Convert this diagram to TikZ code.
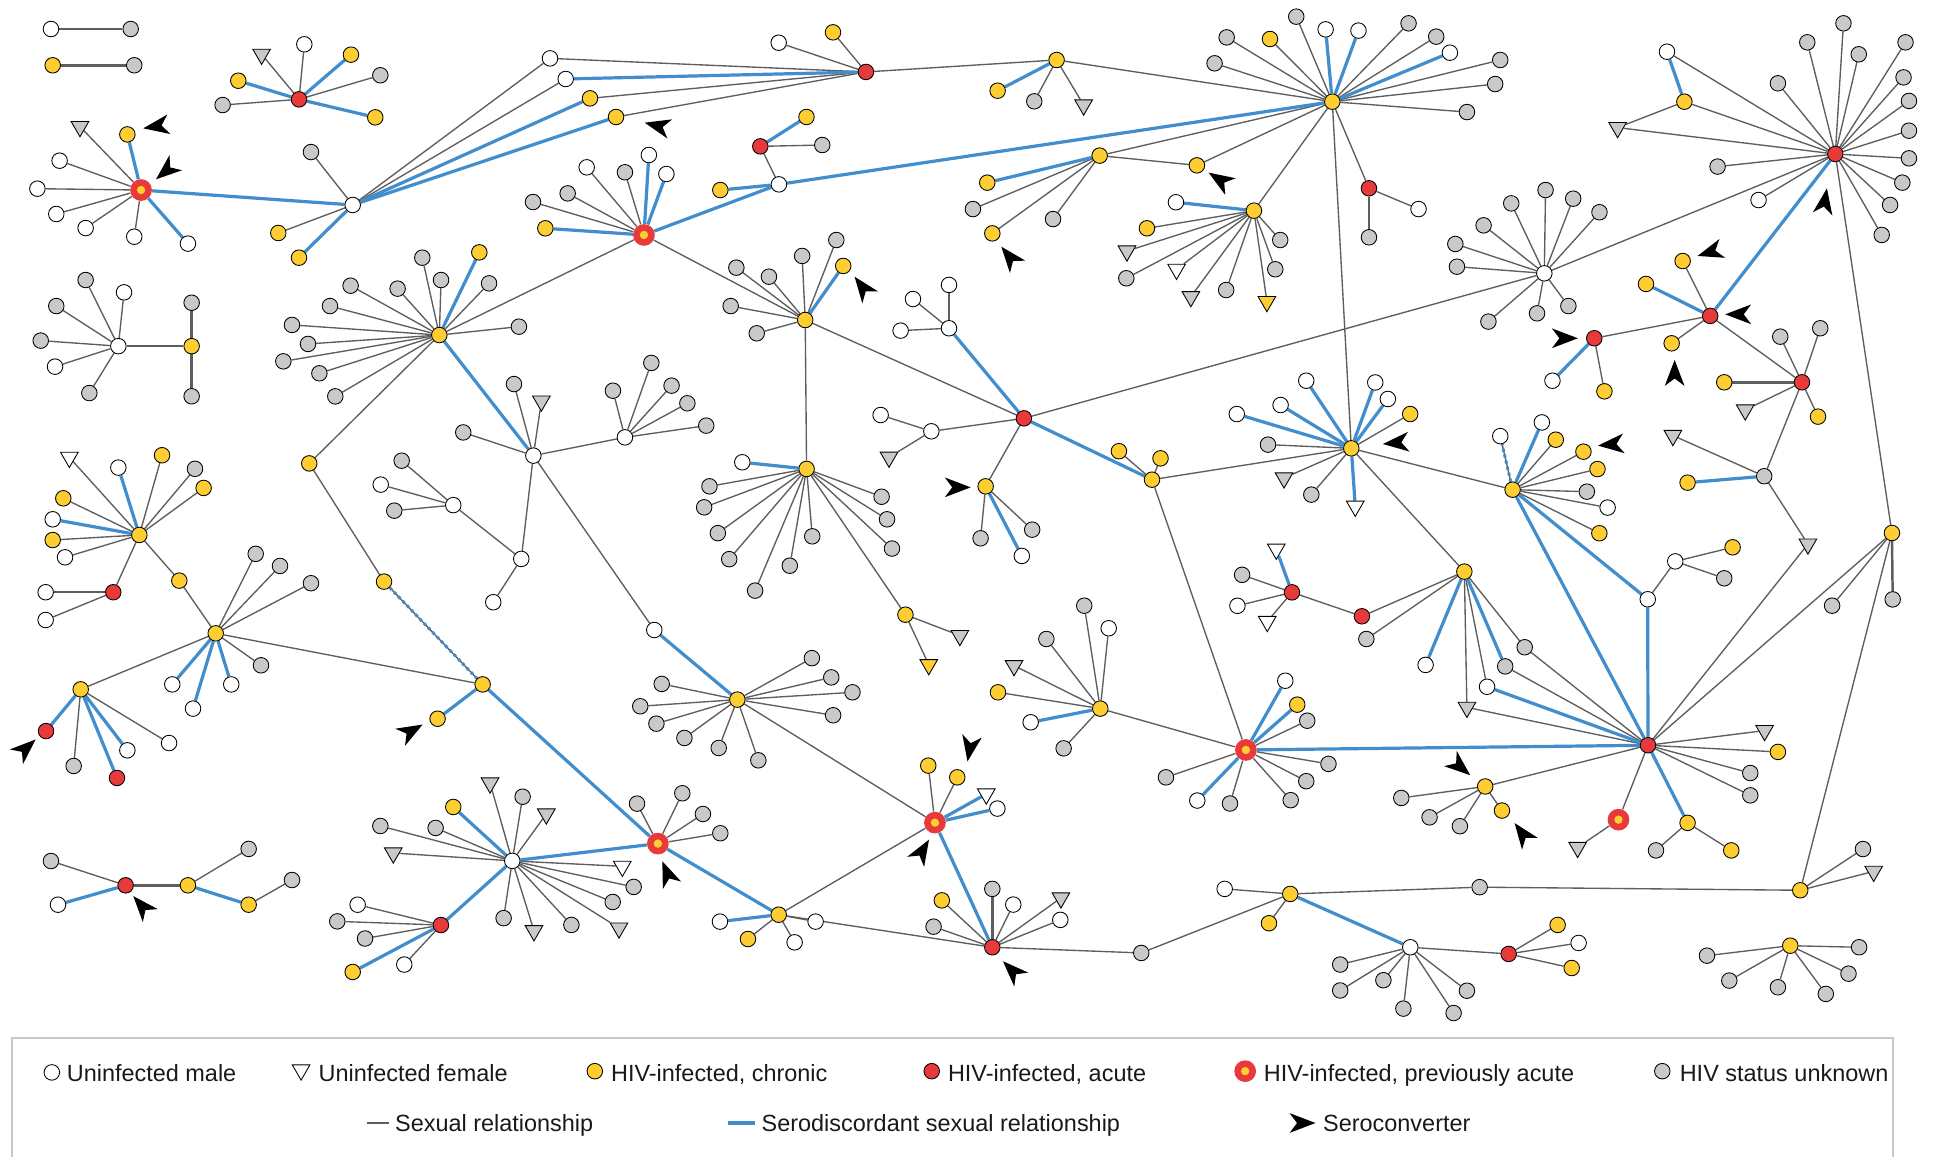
\documentclass[tikz,border=0pt]{standalone}
\usepackage{fontspec}
\setmainfont{Liberation Sans}
\usetikzlibrary{shapes.geometric,backgrounds}
\definecolor{cyel}{HTML}{FDCD32}
\definecolor{cred}{HTML}{E8393B}
\definecolor{cgry}{HTML}{C9C9C7}
\definecolor{cblu}{HTML}{428ECC}
\definecolor{cedg}{HTML}{5E5E5E}
\definecolor{cbox}{HTML}{C8C8C8}
\newcommand\nd[4]{\node[#1] (#2) at (#3,#4) {};}
\newcommand\sero[3]{\fill[black,shift={(#1,#2)},rotate=#3] (0pt,0pt) -- (-21pt,8pt) -- (-15pt,0pt) -- (-21pt,-8pt) -- cycle;}
\newcommand\sgx[2]{\foreach \tg in {#2} {\draw[gl] (#1) -- (\tg);}}
\newcommand\sbx[2]{\foreach \tg in {#2} {\draw[bl] (#1) -- (\tg);}}
\tikzset{
 base/.style={circle,draw=black,line width=0.7pt,minimum size=12.6pt,inner sep=0pt},
 mnode/.style={base,fill=white},
 cnode/.style={base,fill=cyel},
 anode/.style={base,fill=cred},
 unode/.style={base,fill=cgry},
 pnode/.style={circle,fill=cred,minimum size=17.6pt,inner sep=0pt,path picture={\fill[cyel] (path picture bounding box.center) circle (3.4pt);}},
 tri/.style={regular polygon,regular polygon sides=3,shape border rotate=180,draw=black,line width=0.7pt,minimum size=16.5pt,inner sep=0pt},
 fnode/.style={tri,fill=white},
 funode/.style={tri,fill=cgry},
 fcnode/.style={tri,fill=cyel},
 gl/.style={draw=cedg,line width=1.1pt},
 gk/.style={draw=cedg,line width=2pt},
 bl/.style={draw=cblu,line width=2.6pt},
 bdash/.style={draw=cblu,line width=2.4pt,dash pattern=on 2.5pt off 2.5pt},
 lbl/.style={anchor=base west,inner sep=0pt,font=\fontsize{19}{23}\selectfont,text=black!90},
}
\begin{document}
\begin{tikzpicture}[x=1pt,y=-1pt]
\useasboundingbox (0,0) rectangle (1568,937);
% ---------- nodes ----------
\nd{mnode}{a1}{41.3}{23.5}\nd{unode}{a2}{105.9}{23.5}
\nd{cnode}{a3}{42.7}{52.9}\nd{unode}{a4}{108.8}{52.9}
% B
\nd{anode}{b0}{242.3}{80.5}\nd{funode}{b1}{212}{44}\nd{mnode}{b2}{246.6}{35.9}
\nd{cnode}{b3}{284.4}{44.3}\nd{unode}{b4}{308.2}{61}\nd{cnode}{b5}{304.1}{95.1}
\nd{unode}{b6}{180.4}{85.1}\nd{cnode}{b7}{193.1}{65.4}
% C
\nd{pnode}{c0}{114.3}{154}\nd{funode}{c1}{64.8}{102.6}\nd{cnode}{c2}{103.2}{108.9}
\nd{mnode}{c3}{48.3}{130.2}\nd{mnode}{c4}{30.3}{152.9}\nd{mnode}{c5}{45.6}{173.4}
\nd{mnode}{c6}{69.4}{184.8}\nd{mnode}{c7}{108.8}{191.8}\nd{mnode}{c8}{152.3}{197.4}
% D
\nd{mnode}{d0}{285.8}{166.1}\nd{unode}{d1}{252}{123.2}\nd{cnode}{d2}{225.5}{188.8}
\nd{cnode}{d3}{242.3}{208.8}\nd{mnode}{d4}{445.7}{47.3}\nd{mnode}{d5}{458.4}{64}
\nd{cnode}{d6}{478.1}{79.7}\nd{cnode}{d7}{499.2}{94.8}
% E0
\nd{anode}{e0}{701.7}{58.3}\nd{mnode}{e1}{631}{34.6}\nd{cnode}{e2}{675}{26.2}
% F0
\nd{cnode}{f0}{856.2}{48.6}\nd{cnode}{f1}{808.4}{73.5}\nd{unode}{f2}{838.1}{82.1}\nd{funode}{f3}{878.1}{85.1}
% O
\nd{cnode}{o0}{1079.6}{82.4}
\nd{unode}{o1}{984.2}{51.3}\nd{unode}{o2}{994}{30.3}\nd{cnode}{o3}{1029.1}{31.6}
\nd{unode}{o4}{1050.4}{13.5}\nd{mnode}{o5}{1074.2}{23.8}\nd{mnode}{o6}{1100.8}{24.8}
\nd{unode}{o7}{1141.4}{18.9}\nd{unode}{o8}{1163.8}{29.7}\nd{mnode}{o9}{1174.9}{42.7}
\nd{unode}{o10}{1215.7}{48.6}\nd{unode}{o11}{1211.6}{68.1}\nd{unode}{o12}{1188.7}{90.8}
\nd{anode}{r1}{1109.3}{152.6}\nd{unode}{r2}{1109.3}{192.3}\nd{mnode}{r3}{1149.5}{169.4}
% T
\nd{cnode}{t0}{891.1}{126.1}\nd{cnode}{t1}{800}{148}\nd{unode}{t2}{788.4}{169.4}
\nd{cnode}{t3}{804.1}{189.1}\nd{unode}{t4}{853.3}{177.5}\nd{cnode}{t5}{969.9}{134}
% U
\nd{cnode}{u0}{1016.1}{170.7}\nd{mnode}{u1}{952.9}{163.9}\nd{cnode}{u2}{929.4}{185}
\nd{funode}{u3}{913.2}{203.4}\nd{unode}{u4}{912.7}{225.5}\nd{fnode}{u5}{953.4}{218.2}
\nd{funode}{u6}{965}{240.4}\nd{unode}{u7}{993.6}{235}\nd{fcnode}{u8}{1026.6}{244.4}
\nd{unode}{u9}{1033.4}{218.2}\nd{unode}{u10}{1037.4}{194.5}
% X
\nd{anode}{x0}{1487.2}{124.8}\nd{mnode}{x1}{1350.8}{41.9}\nd{cnode}{x2}{1364.9}{82.4}
\nd{funode}{x3}{1310.8}{103.4}\nd{unode}{x4}{1440.7}{67.5}\nd{unode}{x5}{1464.5}{34.3}
\nd{unode}{x6}{1493.8}{18.9}\nd{unode}{x7}{1506.2}{44}\nd{unode}{x8}{1544.1}{34.3}
\nd{unode}{x9}{1542.5}{62.7}\nd{unode}{x10}{1546.9}{81.8}\nd{unode}{x11}{1546.9}{105.9}
\nd{unode}{x12}{1546.9}{128.3}\nd{unode}{x13}{1541.5}{148}\nd{unode}{x14}{1531.6}{166.1}
\nd{unode}{x15}{1524.8}{190.4}\nd{unode}{x16}{1391.8}{135}\nd{mnode}{x17}{1425}{162.1}
% W
\nd{mnode}{w0}{1251.4}{221.5}\nd{unode}{w1}{1179.3}{197.7}\nd{unode}{w2}{1180.6}{216.1}
\nd{unode}{w3}{1202.2}{182.6}\nd{unode}{w4}{1224.6}{164.8}\nd{unode}{w5}{1252.4}{154}
\nd{unode}{w6}{1274.8}{161}\nd{unode}{w7}{1296.1}{172}\nd{unode}{w8}{1270.9}{248}
\nd{unode}{w9}{1245.5}{253.9}\nd{unode}{w10}{1206.1}{260.6}
% Q red cluster
\nd{anode}{q0}{1385.8}{256}\nd{cnode}{q1}{1333.8}{230.1}\nd{cnode}{q2}{1363.5}{211.5}
\nd{anode}{q3}{1291.9}{274.1}\nd{cnode}{q4}{1354.6}{278.2}\nd{anode}{q5}{1460.2}{309.8}
\nd{mnode}{q6}{1258}{308.5}\nd{cnode}{q7}{1300.1}{317.1}\nd{cnode}{q8}{1397.2}{309.8}
\nd{funode}{q9}{1414.2}{332.2}\nd{cnode}{q10}{1473.2}{337.6}\nd{unode}{q11}{1475}{266}
\nd{unode}{q12}{1442.6}{272.8}\nd{unode}{q13}{1429.6}{385.9}\nd{funode}{q14}{1355.6}{352.9}
\nd{cnode}{q15}{1367.5}{391.1}\nd{funode}{q16}{1465}{440.9}
% Y
\nd{cnode}{y0}{1533.1}{431.9}\nd{unode}{y1}{1484.6}{490.8}\nd{unode}{y2}{1533.7}{485.7}
\nd{cnode}{y3}{1458.8}{721.4}\nd{unode}{y4}{1509.6}{688}\nd{funode}{y5}{1518.3}{706.1}
\nd{unode}{y6}{1199}{718.9}
% L
\nd{cnode}{l0}{356}{271.5}\nd{unode}{l1}{342.2}{208.8}\nd{cnode}{l2}{388.4}{204.5}
\nd{unode}{l3}{357.4}{226.9}\nd{unode}{l4}{322.2}{233.9}\nd{unode}{l5}{284.1}{231.5}
\nd{unode}{l6}{267.4}{248}\nd{unode}{l7}{236.6}{263.3}\nd{unode}{l8}{249.6}{278.7}
\nd{unode}{l9}{229.6}{292.8}\nd{unode}{l10}{258.8}{302.5}\nd{unode}{l11}{271.7}{321.2}
\nd{unode}{l12}{396.3}{229.6}\nd{unode}{l13}{420.5}{264.7}
\nd{cnode}{l14}{250.6}{375.5}\nd{cnode}{l15}{311.2}{471.3}
% H0
\nd{mnode}{h0}{95.9}{280.5}\nd{cnode}{h1}{155.3}{280.5}\nd{unode}{h2}{69.4}{226.9}
\nd{mnode}{h3}{100.5}{236.9}\nd{unode}{h4}{45.6}{248}\nd{unode}{h5}{33}{276}
\nd{mnode}{h6}{44.6}{297.1}\nd{unode}{h7}{72.4}{318.5}\nd{unode}{h8}{155.3}{245.3}
\nd{unode}{h9}{155.3}{321.1}
% I
\nd{cnode}{i0}{112.9}{433.5}\nd{fnode}{i1}{56.2}{370.6}\nd{mnode}{i2}{95.9}{378.9}
\nd{cnode}{i3}{131.3}{368.9}\nd{unode}{i4}{158}{379.9}\nd{cnode}{i5}{165}{395.4}
\nd{cnode}{i6}{51.3}{403.8}\nd{mnode}{i7}{42.7}{420.8}\nd{cnode}{i8}{42.7}{437.6}
\nd{mnode}{i9}{52.7}{451.6}\nd{anode}{i10}{91.8}{479.9}\nd{mnode}{i11}{37}{479.9}
\nd{mnode}{i12}{37}{502.4}\nd{cnode}{i13}{145.3}{470.5}
% J
\nd{cnode}{j0}{174.8}{513.2}\nd{unode}{j1}{207.2}{448.8}\nd{unode}{j2}{226.9}{458.6}
\nd{unode}{j3}{252}{472.6}\nd{unode}{j4}{211.5}{539.1}\nd{mnode}{j5}{139.6}{554.6}
\nd{mnode}{j6}{156.4}{574.2}\nd{mnode}{j7}{187.4}{554.6}
% K0
\nd{cnode}{k0}{65.4}{558.6}\nd{anode}{k1}{37.3}{592.4}\nd{unode}{k2}{59.7}{620.7}
\nd{anode}{k3}{94.8}{630.4}\nd{mnode}{k4}{103.2}{608}\nd{mnode}{k5}{137}{602.1}
% N bottom left
\nd{anode}{n0}{101.8}{717.4}\nd{unode}{n1}{41.3}{697.7}\nd{mnode}{n2}{47}{733.1}
\nd{cnode}{n3}{152.3}{717.4}\nd{unode}{n4}{201.5}{687.9}\nd{cnode}{n5}{201.5}{733.1}
\nd{unode}{n6}{236.6}{713.1}
% JJ
\nd{anode}{jj0}{357.3}{749.6}\nd{mnode}{jj1}{289.8}{733.1}\nd{unode}{jj2}{273.3}{746.6}
\nd{unode}{jj3}{295.8}{760.5}\nd{cnode}{jj4}{285.8}{787.6}\nd{mnode}{jj5}{327.6}{781.6}
% KK
\nd{mnode}{kk0}{415.1}{697.6}\nd{funode}{kk1}{397.1}{634.5}\nd{unode}{kk2}{423.5}{645.6}
\nd{funode}{kk3}{442.7}{659.6}\nd{fnode}{kk4}{504.3}{702}\nd{unode}{kk5}{513.5}{718.7}
\nd{unode}{kk6}{496.5}{730.9}\nd{funode}{kk7}{501.6}{752}\nd{unode}{kk8}{463}{749.5}
\nd{funode}{kk9}{432.7}{754.2}\nd{unode}{kk10}{408.1}{744}\nd{cnode}{kk11}{367.3}{653.9}
\nd{unode}{kk12}{308.2}{669.3}\nd{unode}{kk13}{353}{670.9}\nd{funode}{kk14}{318.7}{691.2}
% P2
\nd{pnode}{pp2}{533.1}{683.6}\nd{unode}{pp21}{516.2}{651.2}\nd{unode}{pp22}{552.9}{642.8}
\nd{unode}{pp23}{569.6}{659.6}\nd{unode}{pp24}{583.7}{675.2}
\nd{cnode}{g9}{391.1}{554.6}\nd{cnode}{g10}{354.6}{582.4}
% HH
\nd{cnode}{hh0}{631}{741.2}\nd{mnode}{hh1}{583.4}{746.8}\nd{cnode}{hh2}{606.1}{760.9}
\nd{mnode}{hh3}{643.9}{763.6}\nd{mnode}{hh4}{660.9}{746.8}
% P6
\nd{pnode}{p6}{757.6}{666.6}\nd{cnode}{p61}{752.2}{620.4}\nd{cnode}{p62}{775.7}{629.9}
\nd{fnode}{p63}{799.2}{643.4}\nd{mnode}{p64}{808.2}{655.2}
% CC
\nd{anode}{cc0}{804.1}{767.6}\nd{unode}{cc1}{804.1}{720.3}\nd{mnode}{cc2}{821.1}{733}
\nd{funode}{cc3}{859.7}{727.6}\nd{mnode}{cc4}{859.2}{745.4}\nd{cnode}{cc5}{763.2}{729.6}
\nd{unode}{cc6}{756.5}{750.9}\nd{unode}{cc7}{924.8}{772.2}
% DD / EE / FF
\nd{cnode}{dd0}{1045.5}{724.4}\nd{mnode}{dd1}{992.4}{720.3}\nd{cnode}{dd2}{1028.3}{748.1}
\nd{mnode}{ee0}{1142.8}{767.6}\nd{unode}{ee1}{1086}{781.6}\nd{unode}{ee2}{1086}{802.6}
\nd{unode}{ee3}{1121}{794.3}\nd{unode}{ee4}{1137.2}{817.3}\nd{unode}{ee5}{1177.9}{820.9}
\nd{unode}{ee6}{1188.7}{802.8}
\nd{anode}{ff0}{1222.5}{773}\nd{cnode}{ff1}{1262.2}{749.5}\nd{mnode}{ff2}{1279.2}{764.1}
\nd{cnode}{ff3}{1273.6}{784.4}
% bottom right
\nd{cnode}{br0}{1450.7}{766.3}\nd{unode}{br1}{1383.2}{774.4}\nd{unode}{br2}{1401.3}{794.6}
\nd{unode}{br3}{1440.7}{800}\nd{unode}{br4}{1479.5}{805.4}\nd{unode}{br5}{1497.9}{789}
\nd{unode}{br6}{1506.5}{767.6}
% Z
\nd{anode}{z0}{1335.4}{603.9}\nd{funode}{z1}{1429.9}{592}\nd{cnode}{z2}{1440.7}{609.3}
\nd{unode}{z3}{1418.3}{626.4}\nd{unode}{z4}{1418.3}{644.5}\nd{cnode}{z5}{1367.5}{666.8}
\nd{unode}{z6}{1341.9}{689.1}\nd{cnode}{z7}{1402.9}{689.1}\nd{pnode}{z8}{1311.5}{664.2}
\nd{funode}{z9}{1278.4}{686.7}
% GG
\nd{cnode}{gg0}{1203.5}{637.3}\nd{cnode}{gg1}{1217.1}{656.8}\nd{unode}{gg2}{1183}{669.5}
\nd{unode}{gg3}{1158.4}{662.3}\nd{unode}{gg4}{1135.5}{646.6}
% AA
\nd{cnode}{aa0}{1186.6}{463.2}\nd{unode}{aa1}{1107.2}{517.8}\nd{mnode}{aa2}{1155.2}{538.8}
\nd{funode}{aa3}{1188.7}{573.2}\nd{mnode}{aa4}{1205}{556.5}\nd{unode}{aa5}{1219.7}{540}
\nd{unode}{aa6}{1235.5}{524.5}
% RR
\nd{anode}{rr0}{1046.9}{480}\nd{fnode}{rr1}{1034.2}{445}\nd{unode}{rr2}{1006.5}{465.8}
\nd{mnode}{rr3}{1002.7}{490.9}\nd{fnode}{rr4}{1026.9}{503.6}\nd{anode}{rr5}{1103.6}{499.4}
% VV
\nd{cnode}{vv0}{1225.7}{396.8}\nd{mnode}{vv1}{1215.7}{353.4}\nd{mnode}{vv2}{1249.4}{342.3}
\nd{cnode}{vv3}{1260.7}{356.3}\nd{cnode}{vv4}{1283.1}{366}\nd{cnode}{vv5}{1294.5}{380.1}
\nd{unode}{vv6}{1285.9}{398.4}\nd{mnode}{vv7}{1302.7}{411.3}\nd{cnode}{vv8}{1296}{432.1}
\nd{mnode}{vw0}{1335.2}{485.6}\nd{mnode}{vw1}{1357.5}{454.9}\nd{cnode}{vw2}{1404}{443.5}
\nd{unode}{vw3}{1397.2}{468.6}
% V
\nd{cnode}{v0}{1095}{363.3}\nd{mnode}{v1}{1002.2}{335.5}\nd{mnode}{v2}{1037.7}{328.2}
\nd{mnode}{v3}{1058.5}{308.5}\nd{mnode}{v4}{1114.4}{309.9}\nd{mnode}{v5}{1124.6}{323.3}
\nd{cnode}{v6}{1142.7}{335.5}\nd{unode}{v7}{1027.5}{360.3}\nd{funode}{v8}{1040.5}{387.3}
\nd{unode}{v9}{1062.6}{400.8}\nd{fnode}{v10}{1098.2}{410.2}
\nd{cnode}{yy0}{933.5}{388.7}\nd{cnode}{yy1}{906.7}{365.6}\nd{cnode}{yy2}{940.4}{371.4}
% R
\nd{anode}{r0}{829.7}{339}\nd{mnode}{rw0}{754.7}{349.5}\nd{mnode}{rw1}{713.6}{336.3}
\nd{funode}{rw2}{720.4}{370.5}\nd{cnode}{ry0}{798.7}{394.1}\nd{unode}{ry1}{794.6}{436.2}
\nd{mnode}{ry2}{828}{450.5}\nd{unode}{ry3}{836.4}{429.2}
\nd{mnode}{s0}{769}{266}\nd{mnode}{s1}{769}{230.9}\nd{mnode}{s2}{739.8}{242.3}\nd{mnode}{s3}{729.8}{267.9}
% NN
\nd{cnode}{nn0}{652.5}{259.3}\nd{unode}{nn1}{596.7}{216.9}\nd{unode}{nn2}{623.1}{224.2}
\nd{unode}{nn3}{650}{207.4}\nd{unode}{nn4}{677.7}{194.5}\nd{cnode}{nn5}{683.3}{215.5}
\nd{unode}{nn6}{592.1}{248}\nd{unode}{nn7}{613.2}{270.1}
% QH
\nd{cnode}{qh0}{653.6}{380}\nd{mnode}{qh1}{601.5}{374.6}\nd{unode}{qh2}{574.9}{394.1}
\nd{unode}{qh3}{570.6}{411.1}\nd{unode}{qh4}{581.7}{432}\nd{unode}{qh5}{590.9}{453.1}
\nd{unode}{qh6}{611.9}{478.6}\nd{unode}{qh7}{640}{458.4}\nd{unode}{qh8}{658.2}{434.6}
\nd{unode}{qh9}{714.4}{402.5}\nd{unode}{qh10}{718.8}{420.8}\nd{unode}{qh11}{722.8}{444.5}
\nd{cnode}{qh12}{733.7}{498.1}\nd{funode}{qh13}{777.8}{515}\nd{fcnode}{qh14}{752.6}{538.6}
% P3
\nd{pnode}{p3}{521.8}{190.4}\nd{cnode}{p31}{441.9}{185}\nd{unode}{p32}{431.9}{163.7}
\nd{unode}{p33}{460}{156.7}\nd{mnode}{p34}{475.4}{135.6}\nd{unode}{p35}{506.4}{139.6}
\nd{mnode}{p36}{525.8}{125.6}\nd{mnode}{p37}{540}{141}
\nd{mnode}{pw}{631.2}{149.4}\nd{cnode}{pw1}{583.7}{154}
\nd{anode}{pr}{616.1}{118.6}\nd{cnode}{pr1}{653.5}{94.8}\nd{unode}{pr2}{666.3}{117.5}
% M
\nd{mnode}{m0}{432.2}{369.2}\nd{unode}{m1}{416.5}{311.2}\nd{funode}{m2}{438.7}{325}
\nd{unode}{m3}{375.4}{350.4}\nd{mnode}{m4}{422.4}{452.9}\nd{mnode}{m5}{399.7}{488}
\nd{mnode}{m6}{367.3}{409.3}\nd{unode}{m7}{325.5}{373.3}\nd{mnode}{m8}{308.5}{392.7}
\nd{unode}{m9}{319.5}{413.8}
\nd{mnode}{mm0}{506.4}{354.4}\nd{unode}{mm1}{496.7}{316.6}\nd{unode}{mm2}{527.8}{294.1}
\nd{unode}{mm3}{544.2}{312.5}\nd{unode}{mm4}{557}{326.8}\nd{unode}{mm5}{572.3}{344.9}
\nd{mnode}{mw}{530.2}{510.5}
% QQ
\nd{cnode}{qq0}{597.5}{566.9}\nd{unode}{qq1}{536.2}{554.2}\nd{unode}{qq2}{518.8}{572.3}
\nd{unode}{qq3}{531.9}{586.4}\nd{unode}{qq4}{554.6}{598}\nd{unode}{qq5}{582.4}{606.1}
\nd{unode}{qq6}{614.5}{616.1}\nd{unode}{qq7}{675.1}{579.6}\nd{unode}{qq8}{690.8}{561}
\nd{unode}{qq9}{673.6}{548.9}\nd{unode}{qq10}{657.9}{533.3}
% BB
\nd{cnode}{bb0}{891.6}{574.2}\nd{unode}{bb1}{878.6}{490.8}\nd{mnode}{bb2}{898.4}{509.1}
\nd{unode}{bb3}{847.9}{517.8}\nd{funode}{bb4}{821.7}{539.4}\nd{cnode}{bb5}{808.7}{561}
\nd{mnode}{bb6}{835.2}{585.3}\nd{unode}{bb7}{861.9}{606.4}
% P5
\nd{pnode}{p5}{1009.6}{607.7}\nd{mnode}{p51}{1041.5}{551.6}\nd{cnode}{p52}{1051.2}{571}
\nd{unode}{p53}{1059.3}{584}\nd{unode}{p54}{1076.5}{619}\nd{unode}{p55}{1058.5}{633}
\nd{unode}{p56}{1045.9}{648.4}\nd{unode}{p57}{996.7}{651.1}\nd{mnode}{p58}{970.2}{648.7}
\nd{unode}{p59}{944.8}{629.9}
% ---------- edges ----------
\begin{scope}[on background layer]
\draw[gk] (a1)--(a2) (a3)--(a4);
\sgx{b0}{b1,b2,b4,b6}\sbx{b0}{b3,b5,b7}
\sgx{c0}{c1,c3,c4,c5,c6,c7}\sbx{c0}{c2,c8,d0}
\sgx{d0}{d1,d2,d4,d5}\sbx{d0}{d3,d6,d7}
\sgx{e0}{d4,d6,d7,e1,e2,f0}\sbx{e0}{d5}
\sgx{f0}{f2,f3,o0}\sbx{f0}{f1}
\sgx{o0}{o1,o2,o3,o4,o7,o8,o10,o11,o12,t0,t5,u0,r1,v0}\sbx{o0}{o5,o6,o9,pw}
\draw[gk] (r1)--(r2); \draw[gl] (r1)--(r3);
\sgx{t0}{t2,t3,t4,t5}\sbx{t0}{t1}
\sgx{u0}{u2,u3,u4,u5,u6,u7,u8,u9,u10}\sbx{u0}{u1}
\sgx{x0}{x1,x2,x3,x4,x5,x6,x7,x8,x9,x10,x11,x12,x13,x14,x15,x16,x17,w0,y0}\sbx{x0}{q0}
\draw[gl] (x2)--(x3); \draw[bl] (x2)--(x1);
\sgx{w0}{w1,w2,w3,w4,w5,w6,w7,w8,w9,w10,r0}
\sgx{q0}{q2,q3,q4,q5}\sbx{q0}{q1}
\draw[bl] (q3)--(q6); \draw[gl] (q3)--(q7);
\draw[gk] (q5)--(q8); \sgx{q5}{q9,q10,q11,q12,q13}
\sgx{q13}{q14,q16}\sbx{q13}{q15}
\sgx{y0}{y1,z0,y3}\draw[gk] (y0)--(y2);
\sgx{y3}{y4,y5,y6}\draw[gl] (y6)--(dd0);
\sgx{l0}{l1,l3,l4,l5,l6,l7,l8,l9,l10,l11,l12,l13,l14,p3}\sbx{l0}{l2,m0}
\draw[gl] (l14)--(l15);
\draw[gl] (l15)--(g9); \draw[bdash] (l15)--(g9);
\draw[gk] (h0)--(h1); \sgx{h0}{h2,h3,h4,h5,h6,h7}\draw[gk] (h1)--(h8) (h1)--(h9);
\sgx{i0}{i1,i3,i4,i5,i6,i8,i9,i10,i13}\sbx{i0}{i2,i7}
\draw[gk] (i10)--(i11); \draw[gl] (i10)--(i12) (i13)--(j0);
\sgx{j0}{j1,j2,j3,j4,k0,g9}\sbx{j0}{j5,j6,j7}
\sgx{k0}{k2,k5}\sbx{k0}{k1,k3,k4}
\draw[gl] (n0)--(n1); \draw[bl] (n0)--(n2); \draw[gk] (n0)--(n3);
\draw[gl] (n3)--(n4); \draw[bl] (n3)--(n5); \draw[gl] (n5)--(n6);
\sgx{jj0}{jj1,jj2,jj3,jj5}\sbx{jj0}{jj4,kk0}
\sgx{kk0}{kk1,kk2,kk3,kk4,kk5,kk6,kk7,kk8,kk9,kk10,kk12,kk13,kk14}\sbx{kk0}{kk11,pp2}
\sgx{pp2}{pp21,pp22,pp23,pp24}\sbx{pp2}{g9,hh0}
\draw[bl] (g9)--(g10);
\sgx{hh0}{hh2,hh3,hh4,p6,cc0}\sbx{hh0}{hh1}
\sgx{p6}{p61,p62,qq0}\sbx{p6}{p63,p64,cc0}
\draw[gk] (cc0)--(cc1); \sgx{cc0}{cc2,cc3,cc4,cc5,cc6,cc7}
\draw[gl] (cc7)--(dd0);
\sgx{dd0}{dd1,dd2}\sbx{dd0}{ee0}
\sgx{ee0}{ee1,ee2,ee3,ee4,ee5,ee6,ff0}
\sgx{ff0}{ff1,ff2,ff3}
\sgx{br0}{br1,br2,br3,br4,br5,br6}
\sgx{z0}{z1,z2,z3,z4,z8,gg0,aa3,aa5,aa6,q16}\sbx{z0}{z5,aa4,p5,vv0,vw0}
\sgx{z5}{z6,z7}\draw[gl] (z8)--(z9);
\sgx{gg0}{gg1,gg2,gg3,gg4}
\sgx{aa0}{aa1,aa3,aa4,aa6,rr5,v0}\sbx{aa0}{aa2,aa5}
\sgx{rr0}{rr2,rr3,rr4,rr5}\sbx{rr0}{rr1}
\draw[gl] (vv0)--(vv1); \draw[bdash] (vv0)--(vv1);
\sgx{vv0}{vv3,vv4,vv5,vv6,vv7,vv8,v0}\sbx{vv0}{vv2,vw0}
\draw[gl] (vw0)--(vw1); \sgx{vw1}{vw2,vw3}
\sgx{v0}{v6,v7,v8,v9,yy0}\sbx{v0}{v1,v2,v3,v4,v5,v10}
\sgx{yy0}{yy1,yy2,p5}\sbx{yy0}{r0}
\sgx{r0}{nn0,rw0,ry0}\sbx{r0}{s0}
\sgx{rw0}{rw1,rw2}
\sgx{ry0}{ry1,ry3}\sbx{ry0}{ry2}
\draw[gk] (s0)--(s1); \sgx{s0}{s2,s3}
\sgx{nn0}{nn1,nn2,nn3,nn4,nn6,nn7,qh0,p3}\sbx{nn0}{nn5}
\sgx{qh0}{qh2,qh3,qh4,qh5,qh6,qh7,qh8,qh9,qh10,qh11,qh12}\sbx{qh0}{qh1}
\sgx{qh12}{qh13,qh14}
\sgx{p3}{p32,p33,p34,p35}\sbx{p3}{p31,p36,p37,pw}
\draw[bl] (pw)--(pw1); \draw[gl] (pw)--(pr);
\draw[bl] (pr)--(pr1); \draw[gl] (pr)--(pr2);
\sgx{m0}{m1,m2,m3,mm0,m4,mw}
\sgx{m4}{m5,m6}\sgx{m6}{m7,m8,m9}
\sgx{mm0}{mm1,mm2,mm3,mm4,mm5}
\draw[bl] (mw)--(qq0);
\sgx{qq0}{qq1,qq2,qq3,qq4,qq5,qq6,qq7,qq8,qq9,qq10}
\sgx{bb0}{bb1,bb2,bb3,bb4,bb5,bb7,p5}\sbx{bb0}{bb6}
\sgx{p5}{p53,p54,p55,p56,p57,p59}\sbx{p5}{p51,p52,p58}
\end{scope}
% ---------- seroconverters ----------
\sero{116.1}{104}{189}\sero{126.4}{145.3}{220}\sero{522.4}{99.4}{166}
\sero{692.5}{224.2}{127}\sero{811.4}{199.9}{129}\sero{979.4}{139.9}{147.5}
\sero{1480.4}{152.6}{80.5}\sero{1375.6}{207.4}{197}\sero{1398}{254.7}{180}
\sero{1278.6}{274.1}{0}\sero{1357}{291.7}{90}\sero{1294.9}{361.1}{185}
\sero{1120.6}{359.8}{185}\sero{786.6}{394.9}{0}\sero{28.9}{599.2}{42}
\sero{342.5}{587.1}{29.5}\sero{108}{726.1}{131}\sero{536.7}{697.9}{112}
\sero{752.8}{680.4}{59}\sero{784}{617}{-100}\sero{812.7}{778.9}{135}
\sero{1191.4}{628.2}{-40}\sero{1227.3}{666.9}{126.5}
% ---------- legend ----------
\draw[cbox,line width=1.5pt] (10,841) rectangle (1534,948);
\nd{mnode}{L1}{42}{869}\node[lbl] (T1) at (54,876) {Uninfected male};
\nd{fnode}{L2}{244}{867}\node[lbl] (T2) at (258,876) {Uninfected female};
\nd{cnode}{L3}{482}{868}\node[lbl] (T3) at (495,876) {HIV-infected, chronic};
\nd{anode}{L4}{755}{868}\node[lbl] (T4) at (768,876) {HIV-infected, acute};
\nd{pnode}{L5}{1009}{868}\node[lbl] (T5) at (1024,876) {HIV-infected, previously acute};
\nd{unode}{L6}{1347}{868}\node[lbl] (T6) at (1361,876) {HIV status unknown};
\coordinate (L7a) at (297,910); \coordinate (L7b) at (315,910);
\draw[gl] (L7a)--(L7b); \node[lbl] (T7) at (320,917) {Sexual relationship};
\coordinate (L8a) at (590,910); \coordinate (L8b) at (612,910);
\draw[bl] (L8a)--(L8b); \node[lbl] (T8) at (617,917) {Serodiscordant sexual relationship};
\sero{1066}{910}{0}\node[lbl] (T9) at (1072,917) {Seroconverter};
\end{tikzpicture}
\end{document}
